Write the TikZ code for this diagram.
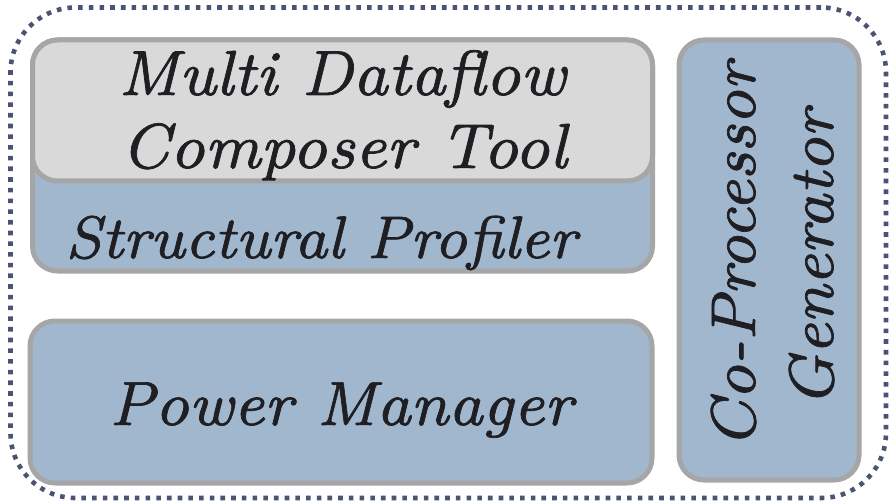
\documentclass[tikz,border=0pt]{standalone}
\usepackage{fontspec}
\usepackage{tikz}
\newfontfamily\lbfont{lmroman8-italic.otf}[FakeBold=1.1]
\definecolor{boxblue}{HTML}{A0B7CE}
\definecolor{boxgray}{HTML}{D9D9D9}
\definecolor{boxedge}{HTML}{A6A6A6}
\definecolor{dotcol}{HTML}{4A5373}
\definecolor{txt}{HTML}{1E1E23}
\tikzset{
  box/.style={draw=boxedge, line width=5pt, rounded corners=25pt, rectangle, inner sep=0pt, outer sep=0pt},
  lbl/.style={anchor=base, inner sep=0pt, text=txt, font=\lbfont\fontsize{8}{9.6}\selectfont, scale=#1, transform shape},
  lbl/.default=7.875,
}
\begin{document}
\begin{tikzpicture}[x=1pt,y=-1pt]
\useasboundingbox (0,0) rectangle (890,502);
\node[draw=dotcol, line width=4.6pt, dash pattern=on 4.6pt off 6.1pt, rounded corners=65pt,
      minimum width=875.5pt, minimum height=490.5pt, inner sep=0pt] (outer) at (448.25,252.75) {};
\node[box, fill=boxblue, minimum width=620pt, minimum height=231pt] (sp) at (342.5,155.5) {};
\node[box, fill=boxgray, minimum width=620pt, minimum height=141pt] (mdc) at (342.5,110.5) {};
\node[box, fill=boxblue, minimum width=622pt, minimum height=162pt] (pm) at (341,402) {};
\node[box, fill=boxblue, minimum width=180pt, minimum height=440pt] (cpg) at (769,260) {};
\node[lbl=7.95] (t1) at (342,95) {Multi Dataflow};
\node[lbl=7.95] (t2) at (344,168) {Composer Tool};
\node[lbl=7.5] (t3) at (321,258) {Structural Profiler};
\node[lbl=7.8] (t4) at (341,425) {Power Manager};
\node[lbl, rotate=90] (t5) at (755,255) {Co-Processor};
\node[lbl, rotate=90] (t6) at (833,258) {Generator};
\end{tikzpicture}
\end{document}
